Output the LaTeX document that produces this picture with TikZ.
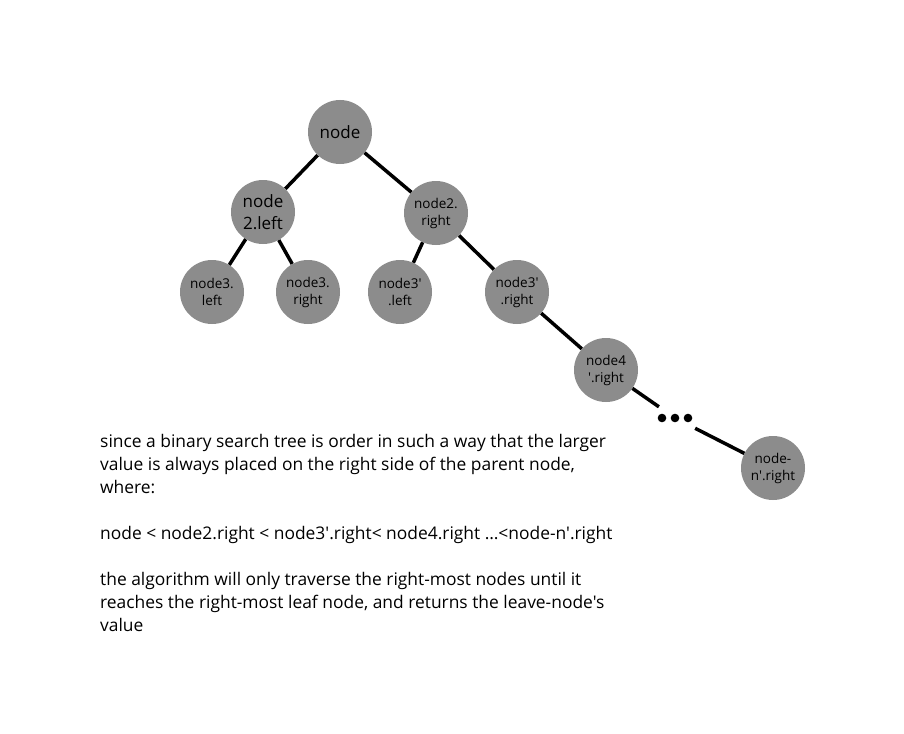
\documentclass[tikz,border=0pt]{standalone}
\usepackage{fontspec}
\newfontfamily\opensans{Open Sans}
\usepackage{tikz}
\usetikzlibrary{positioning}
\definecolor{nodegray}{RGB}{140,140,140}
\tikzstyle{treenode} = [circle,
minimum size=64pt,
inner sep=0pt,
fill=nodegray,
text=black,
align=center,
font=\opensans\fontsize{13.5}{17}\selectfont]
\tikzstyle{bignode} = [treenode,
font=\opensans\fontsize{17}{22}\selectfont]
\tikzstyle{edge} = [line width=3.5pt, black]
\tikzstyle{note} = [anchor=north west,
align=left,
inner sep=0pt,
font=\opensans\fontsize{17.4}{23}\selectfont]

\begin{document}
\begin{tikzpicture}[x=1pt, y=-1pt]
        \useasboundingbox [fill=white] (0,0) rectangle (904,733);
        \node (root) [bignode] at (340,132) {node};
        \node (n2l) [bignode] at (263,212) {node\\2.left};
        \node (n2r) [treenode] at (436,213) {node2.\\right};
        \node (n3l) [treenode] at (212,292) {node3.\\left};
        \node (n3r) [treenode] at (308,292) {node3.\\right};
        \node (n3pl) [treenode] at (400,292) {node3'\\.left};
        \node (n3pr) [treenode] at (517,292) {node3'\\.right};
        \node (n4pr) [treenode] at (606,370) {node4\\'.right};
        \node (dots) [minimum width=40pt, minimum height=22pt, inner sep=0pt] at (675,418) {};
        \node (nnr) [treenode] at (773,468) {node-\\n'.right};

        \foreach \dx in {-13,0,13}
            \fill (dots.center) ++(\dx,0) circle (4.3pt);

        \draw [edge] (root) -- (n2l);
        \draw [edge] (root) -- (n2r);
        \draw [edge] (n2l) -- (n3l);
        \draw [edge] (n2l) -- (n3r);
        \draw [edge] (n2r) -- (n3pl);
        \draw [edge] (n2r) -- (n3pr);
        \draw [edge] (n3pr) -- (n4pr);
        \draw [edge] (n4pr) -- (dots);
        \draw [edge] (dots) -- (nnr);

        \node (why) [note] at (100,434) {since a binary search tree is order in such a way that the larger\\value is always placed on the right side of the parent node,\\where:\\[23pt]node < node2.right < node3'.right< node4.right …<node-n'.right\\[23pt]the algorithm will only traverse the right-most nodes until it\\reaches the right-most leaf node, and returns the leave-node's\\value};
    \end{tikzpicture}
\end{document}
